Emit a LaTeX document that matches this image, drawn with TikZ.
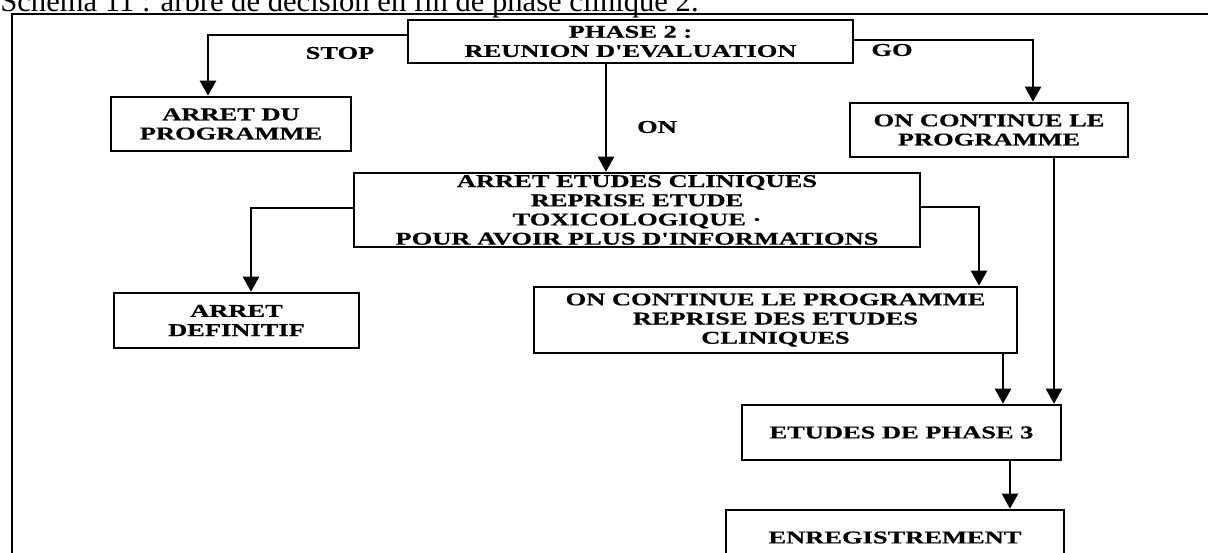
\documentclass[tikz,border=0pt]{standalone}
\usepackage{fontspec}
\setmainfont{Liberation Serif}
\newfontfamily\boxfont[FakeStretch=1.47,BoldFeatures={FakeStretch=1.47,FakeBold=0.6}]{Liberation Serif}
\usetikzlibrary{arrows.meta}

\begin{document}
\begin{tikzpicture}[x=0.5pt,y=-0.5pt,>={Triangle[length=7.5pt,width=8pt]},
    box/.style={draw,line width=1.3pt,inner sep=0pt,align=center,font=\boxfont\bfseries\fontsize{9}{9.6}\selectfont},
    lbl/.style={inner sep=0pt,font=\boxfont\bfseries\fontsize{9}{9.6}\selectfont},
    link/.style={->,line width=1.1pt}]
      \useasboundingbox (0,0) rectangle (1208,552);
      \clip (0,0) rectangle (1208,552);
      \node[anchor=base west,inner sep=0pt,font=\fontsize{15.3}{18}\selectfont] (titre) at (0,11) {Schéma 11 : arbre de décision en fin de phase clinique 2.};
      \draw[line width=1.2pt] (12,600) -- (12,14) -- (1230,14);
      \node[box,minimum width=222.5pt,minimum height=21.5pt] (phase) at (630.5,41.5) {PHASE 2 :\\REUNION D'EVALUATION};
      \node[box,minimum width=120pt,minimum height=27pt] (arret) at (231,124) {ARRET DU\\PROGRAMME};
      \node[box,minimum width=139pt,minimum height=27pt] (suite) at (989,130) {ON CONTINUE LE\\PROGRAMME};
      \node[box,minimum width=283pt,minimum height=37pt] (etudes) at (637,210) {ARRET ETUDES CLINIQUES\\REPRISE ETUDE\\TOXICOLOGIQUE ·\\POUR AVOIR PLUS D'INFORMATIONS};
      \node[box,minimum width=122.5pt,minimum height=27.5pt] (definitif) at (236.5,320.5) {ARRET\\DEFINITIF};
      \node[box,minimum width=241.5pt,minimum height=33pt] (reprise) at (775.5,320) {ON CONTINUE LE PROGRAMME\\REPRISE DES ETUDES\\CLINIQUES};
      \node[box,minimum width=159.5pt,minimum height=27.5pt] (phasetrois) at (901.5,432.5) {ETUDES DE PHASE 3};
      \node[box,minimum width=169pt,minimum height=27.5pt] (enreg) at (895,537.5) {ENREGISTREMENT};
      \node[lbl] (stoplbl) at (340,53) {STOP};
      \node[lbl] (golbl) at (892,50) {GO};
      \node[lbl] (onlbl) at (657,127) {ON};
      \draw[link] (phase.west |- 0,35) -| (arret.north -| 208,0);
      \draw[link] (phase.east |- 0,40) -| (suite.north -| 1033,0);
      \draw[link] (phase.south -| 606,0) -- (etudes.north -| 606,0);
      \draw[link] (etudes.west |- 0,208) -| (definitif.north -| 251,0);
      \draw[link] (etudes.east |- 0,207) -| (reprise.north -| 979,0);
      \draw[link] (suite.south -| 1054,0) -- (phasetrois.north -| 1054,0);
      \draw[link] (reprise.south -| 1003,0) -- (phasetrois.north -| 1003,0);
      \draw[link] (phasetrois.south -| 1010,0) -- (enreg.north -| 1010,0);
    \end{tikzpicture}
\end{document}
